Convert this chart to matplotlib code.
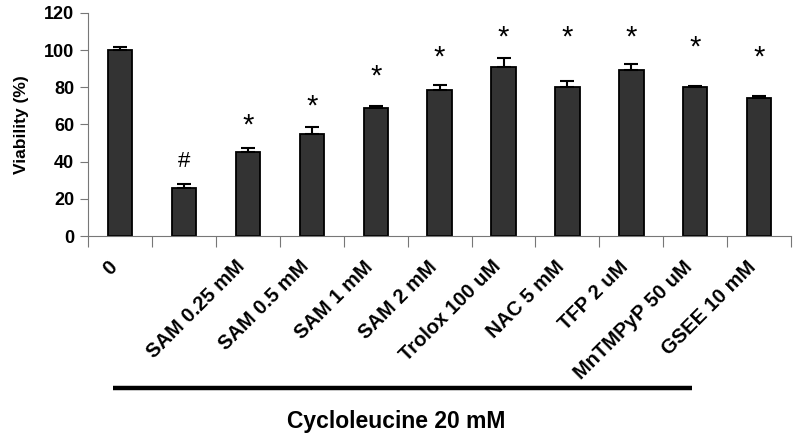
import numpy as np
import matplotlib.pyplot as plt
from matplotlib.transforms import blended_transform_factory, ScaledTranslation

plt.rcParams['font.family'] = ['Liberation Sans', 'DejaVu Sans']

# bar labels (the second bar, cycloleucine alone, has no label)
labels = ['0', '', 'SAM 0.25 mM', 'SAM 0.5 mM', 'SAM 1 mM', 'SAM 2 mM',
          'Trolox 100 uM', 'NAC 5 mM', 'TFP 2 uM', 'MnTMPyP 50 uM', 'GSEE 10 mM']
viability = [100, 26, 45, 55, 69, 78.5, 90.7, 80, 89.3, 80, 74]
sem = [1.5, 2, 2.4, 3.5, 1, 3, 5.2, 3.3, 3.2, 0.6, 1.6]
marks = ['', '#', '*', '*', '*', '*', '*', '*', '*', '*', '*']
mark_y = [0, 40, 63.3, 73.7, 89.9, 100, 110.9, 110.9, 110.9, 105.5, 100]

x = np.arange(len(viability))

fig = plt.figure(figsize=(8, 4.4), dpi=100)
ax = fig.add_axes([0.11, 0.4636, 0.879, 0.5069])

ax.bar(x, viability, width=0.38, color='#333333', edgecolor='black', linewidth=1.3, zorder=2)
ax.errorbar(x, viability, yerr=[np.zeros(len(sem)), sem], fmt='none',
            ecolor='black', elinewidth=1.5, capsize=5, capthick=1.5, zorder=3)

for xi, m, my in zip(x, marks, mark_y):
    if m == '*':
        ax.text(xi, my - 4, m, ha='center', va='center', fontsize=21)
    elif m:
        ax.text(xi, my, m, ha='center', va='center', fontsize=16)

ax.set_xlim(-0.5, len(x) - 0.5)
ax.set_ylim(0, 120)
ax.set_yticks(np.arange(0, 121, 20))
ax.tick_params(axis='y', direction='out', length=6, width=0.8, color='#777777',
               labelsize=13, pad=4)
for t in ax.get_yticklabels():
    t.set_fontweight('bold')

# ticks at category boundaries, labels at centers
ax.set_xticks(np.arange(-0.5, len(x), 1))
ax.set_xticklabels([])
ax.tick_params(axis='x', which='major', direction='out', length=8, width=0.8, color='#777777')
ax.set_xticks(x, minor=True)
ax.set_xticklabels(labels, minor=True, rotation=45, ha='right', va='center',
                   rotation_mode='anchor', fontsize=14.5, fontweight='bold')
ax.tick_params(axis='x', which='minor', length=0, pad=20)
shift = ScaledTranslation(-6 / 100, 0, fig.dpi_scale_trans)
for t in ax.get_xticklabels(minor=True):
    t.set_transform(t.get_transform() + shift)

for s in ['top', 'right']:
    ax.spines[s].set_visible(False)
for s in ['left', 'bottom']:
    ax.spines[s].set_color('#777777')
    ax.spines[s].set_linewidth(0.8)

ax.set_ylabel('Viability (%)', fontsize=12.5, fontweight='bold', labelpad=11)

# treatment bracket line and caption
tr = blended_transform_factory(ax.transData, ax.transAxes)
ax.plot([-0.11, 8.95], [-0.682, -0.682], color='black', linewidth=3.2,
        transform=tr, clip_on=False, solid_capstyle='butt')
fig.text(0.495, 0.041, 'Cycloleucine 20 mM', ha='center', va='center',
         fontsize=16.5, fontweight='bold')

fig.savefig('out.png', dpi=100)
